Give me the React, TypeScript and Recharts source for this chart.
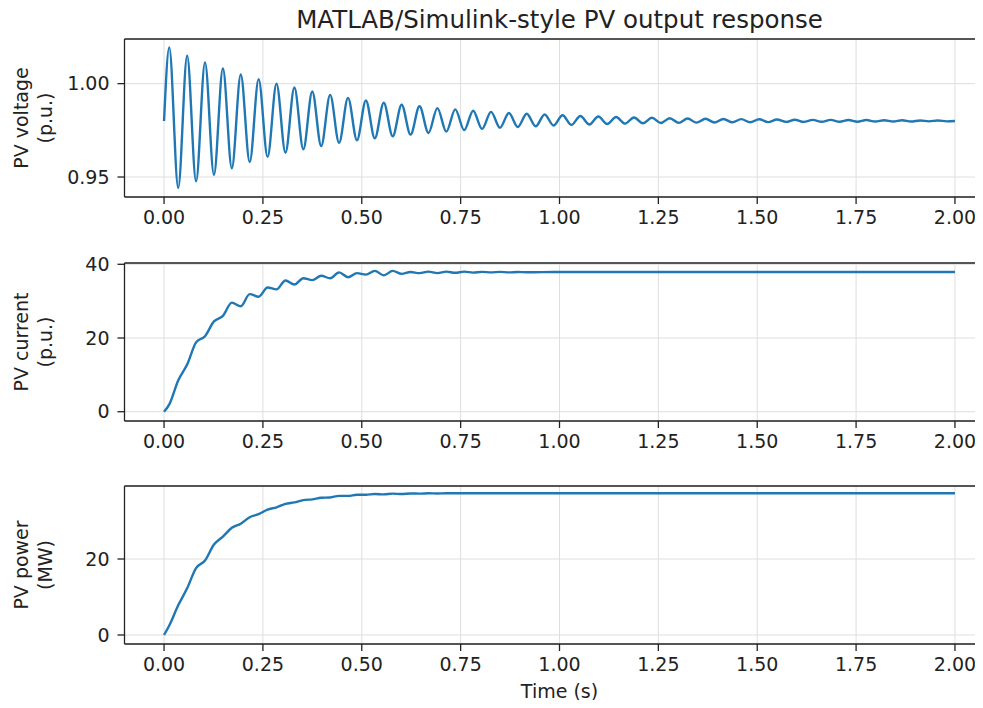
import React from 'react';
import { LineChart, Line, XAxis, YAxis, CartesianGrid, ReferenceLine } from 'recharts';

// ---------- data ----------
const xTicks = [0, 0.25, 0.5, 0.75, 1.0, 1.25, 1.5, 1.75, 2.0];
const voltageTicks = [0.95, 1.0];
const currentTicks = [0, 20, 40];
const powerTicks = [0, 20];

// PV voltage: start / end and the time and value of each crest and trough
const voltageStart = { t: 0, v: 0.98 };
const voltageEnd = { t: 2.0, v: 0.98 };
const voltPeakTimes = [
  0.0132, 0.0584, 0.1036, 0.1488, 0.194, 0.2392, 0.2844, 0.3296, 0.3748, 0.42, 0.4652,
  0.5104, 0.5556, 0.6008, 0.646, 0.6912, 0.7364, 0.7816, 0.8268, 0.872, 0.9172, 0.9624,
  1.0076, 1.0528, 1.098, 1.1432, 1.1884, 1.2336, 1.2788, 1.324, 1.3692, 1.4144, 1.4596,
  1.5048, 1.55, 1.5952, 1.6404, 1.6856, 1.7308, 1.776, 1.8212, 1.8664, 1.9116, 1.9568,
];
const voltPeakValues = [
  1.0194, 1.0149, 1.0114, 1.0081, 1.0049, 1.0024, 1.0, 0.9979, 0.9958, 0.994, 0.9924,
  0.991, 0.9898, 0.9887, 0.9879, 0.9869, 0.9862, 0.9855, 0.9849, 0.9843, 0.9839, 0.9835,
  0.9831, 0.9827, 0.9824, 0.9821, 0.9819, 0.9817, 0.9815, 0.9813, 0.9812, 0.9811, 0.981,
  0.9809, 0.9808, 0.9807, 0.9806, 0.9806, 0.9805, 0.9805, 0.9804, 0.9804, 0.9803, 0.9803,
];
const voltTroughTimes = [
  0.0358, 0.081, 0.1262, 0.1714, 0.2166, 0.2618, 0.307, 0.3522, 0.3974, 0.4426, 0.4878,
  0.533, 0.5782, 0.6234, 0.6686, 0.7138, 0.759, 0.8042, 0.8494, 0.8946, 0.9398, 0.985,
  1.0302, 1.0754, 1.1206, 1.1658, 1.211, 1.2562, 1.3014, 1.3466, 1.3918, 1.437, 1.4822,
  1.5274, 1.5726, 1.6178, 1.663, 1.7082, 1.7534, 1.7986, 1.8438, 1.889, 1.9342, 1.9794,
];
const voltTroughValues = [
  0.9442, 0.9477, 0.9512, 0.9547, 0.958, 0.9608, 0.963, 0.9648, 0.9666, 0.9683, 0.9697,
  0.9707, 0.9718, 0.9727, 0.9736, 0.9743, 0.9751, 0.9758, 0.9764, 0.9768, 0.9772, 0.9776,
  0.9779, 0.9781, 0.9784, 0.9786, 0.9788, 0.9789, 0.979, 0.9791, 0.9792, 0.9793, 0.9793,
  0.9794, 0.9795, 0.9795, 0.9796, 0.9796, 0.9796, 0.9797, 0.9797, 0.9797, 0.9798, 0.9798,
];

// PV current
const currentTimes = [
  0, 0.0132, 0.0358, 0.0584, 0.081, 0.1036, 0.1262, 0.1488, 0.1714, 0.194, 0.2166, 0.2392,
  0.2618, 0.2844, 0.307, 0.3296, 0.3522, 0.3748, 0.3974, 0.42, 0.4426, 0.4652, 0.4878,
  0.5104, 0.533, 0.5556, 0.5782, 0.6008, 0.6234, 0.646, 0.6686, 0.6912, 0.7138, 0.7364,
  0.759, 0.7816, 0.8042, 0.8268, 0.8494, 0.872, 0.8946, 0.9172, 1.0, 1.25, 1.5, 1.75, 2.0,
];
const currentValues = [
  0, 2.0, 8.5, 12.8, 18.8, 20.5, 24.5, 26.0, 29.6, 28.6, 31.9, 31.2,
  33.7, 33.2, 35.6, 34.5, 36.2, 35.7, 36.9, 36.2, 37.8, 36.5, 37.6,
  37.2, 38.2, 37.0, 38.2, 37.4, 37.9, 37.6, 38.0, 37.6, 38.0, 37.7,
  38.0, 37.75, 37.95, 37.8, 37.95, 37.8, 37.9, 37.85, 37.9, 37.9, 37.9, 37.9, 37.9,
];

// PV power
const powerTimes = [
  0, 0.0132, 0.0358, 0.0584, 0.081, 0.1036, 0.1262, 0.1488, 0.1714, 0.194, 0.2166, 0.2392,
  0.2618, 0.2844, 0.307, 0.3296, 0.3522, 0.3748, 0.3974, 0.42, 0.4426, 0.4652, 0.4878,
  0.5104, 0.533, 0.5556, 0.5782, 0.6008, 0.6234, 0.646, 0.6686, 0.6912, 0.7138, 0.8, 1.0,
  1.5, 2.0,
];
const powerValues = [
  0, 2.5, 7.8, 12.3, 17.6, 19.6, 23.8, 25.9, 28.2, 29.3, 31.0, 31.8,
  33.0, 33.6, 34.5, 34.9, 35.5, 35.7, 36.1, 36.2, 36.6, 36.6, 36.9,
  36.9, 37.1, 37.0, 37.2, 37.1, 37.25, 37.2, 37.3, 37.25, 37.3, 37.3, 37.3,
  37.3, 37.3,
];

// ---------- tables built from the arrays ----------
const voltageData = (() => {
  const rows = [{ t: voltageStart.t, v: voltageStart.v }];
  voltPeakTimes.forEach((t, i) => {
    rows.push({ t, v: voltPeakValues[i] });
    rows.push({ t: voltTroughTimes[i], v: voltTroughValues[i] });
  });
  rows.push({ t: voltageEnd.t, v: voltageEnd.v });
  return rows;
})();
const currentData = currentTimes.map((t, i) => ({ t, v: currentValues[i] }));
const powerData = powerTimes.map((t, i) => ({ t, v: powerValues[i] }));

// ---------- layout / style ----------
const FONT = '"DejaVu Sans", Verdana, sans-serif';
const TEXT = '#222';
const SPINE = '#222';
const LINE = '#1f77b4';
const GRID = '#dedede';
const CHART_W = 1000;
const PLOT_TOP = 39;
const PLOT_H = 158;
const Y_AXIS_W = 124.5;
const X_DOMAIN: [number, number] = [-0.1, 2.1];
const TICK_FS = 19;
const LABEL_FS = 19;

const YLabel = (props: any) => {
  const { lines } = props;
  const cy = PLOT_TOP + PLOT_H / 2;
  const xs = [21, 45];
  return (
    <g>
      {lines.map((s: string, i: number) => (
        <text
          key={i}
          x={xs[i]}
          y={cy}
          transform={`rotate(-90, ${xs[i]}, ${cy})`}
          textAnchor="middle"
          dominantBaseline="central"
          fontSize={LABEL_FS}
          fontFamily={FONT}
          fill={TEXT}
        >
          {s}
        </text>
      ))}
    </g>
  );
};

const XLabel = (props: any) => {
  return (
    <text
      x={(Y_AXIS_W + CHART_W - 5.5) / 2}
      y={244}
      textAnchor="middle"
      dominantBaseline="central"
      fontSize={LABEL_FS}
      fontFamily={FONT}
      fill={TEXT}
    >
      {props.text}
    </text>
  );
};

type PanelProps = {
  top: number;
  height: number;
  data: { t: number; v: number }[];
  domain: [number, number];
  yTicks: number[];
  yFmt: (v: number) => string;
  labelLines: string[];
  xLabel?: string;
};

const Panel = ({ top, height, data, domain, yTicks, yFmt, labelLines, xLabel }: PanelProps) => (
  <div style={{ position: 'absolute', left: 0, top }}>
    <LineChart
      width={CHART_W}
      height={height}
      data={data}
      margin={{ top: PLOT_TOP, right: 5.5, bottom: 0, left: 0 }}
    >
      <CartesianGrid stroke={GRID} strokeWidth={1} />
      <XAxis
        dataKey="t"
        type="number"
        domain={X_DOMAIN}
        ticks={xTicks}
        interval={0}
        allowDataOverflow
        tickFormatter={(v: number) => v.toFixed(2)}
        height={height - PLOT_TOP - PLOT_H}
        tickSize={7}
        tickMargin={7}
        stroke={SPINE}
        strokeWidth={1.3}
        tick={{ fill: TEXT, fontSize: TICK_FS, fontFamily: FONT }}
        label={xLabel ? <XLabel text={xLabel} /> : undefined}
      />
      <YAxis
        type="number"
        domain={domain}
        ticks={yTicks}
        interval={0}
        allowDataOverflow
        tickFormatter={yFmt}
        width={Y_AXIS_W}
        tickSize={7}
        tickMargin={8}
        stroke={SPINE}
        strokeWidth={1.3}
        tick={{ fill: TEXT, fontSize: TICK_FS, fontFamily: FONT }}
        label={<YLabel lines={labelLines} />}
      />
      <ReferenceLine y={domain[1]} stroke={SPINE} strokeWidth={1.3} />
      <Line
        type="monotone"
        dataKey="v"
        stroke={LINE}
        strokeWidth={2.4}
        dot={false}
        isAnimationActive={false}
      />
    </LineChart>
  </div>
);

export default function App() {
  return (
    <div
      style={{
        position: 'relative',
        width: 983,
        height: 708,
        margin: -8,
        overflow: 'hidden',
        background: '#fff',
        fontFamily: FONT,
      }}
    >
      <div
        style={{
          position: 'absolute',
          left: 0,
          top: 6,
          width: Y_AXIS_W + CHART_W - 5.5,
          textAlign: 'center',
          fontSize: 24.5,
          lineHeight: '28px',
          color: TEXT,
          fontFamily: FONT,
        }}
      >
        MATLAB/Simulink-style PV output response
      </div>
      <Panel
        top={0}
        height={240}
        data={voltageData}
        domain={[0.9393, 1.0239]}
        yTicks={voltageTicks}
        yFmt={(v) => v.toFixed(2)}
        labelLines={['PV voltage', '(p.u.)']}
      />
      <Panel
        top={224}
        height={240}
        data={currentData}
        domain={[-2.52, 40.35]}
        yTicks={currentTicks}
        yFmt={(v) => String(v)}
        labelLines={['PV current', '(p.u.)']}
      />
      <Panel
        top={447}
        height={261}
        data={powerData}
        domain={[-2.37, 39.21]}
        yTicks={powerTicks}
        yFmt={(v) => String(v)}
        labelLines={['PV power', '(MW)']}
        xLabel="Time (s)"
      />
    </div>
  );
}
